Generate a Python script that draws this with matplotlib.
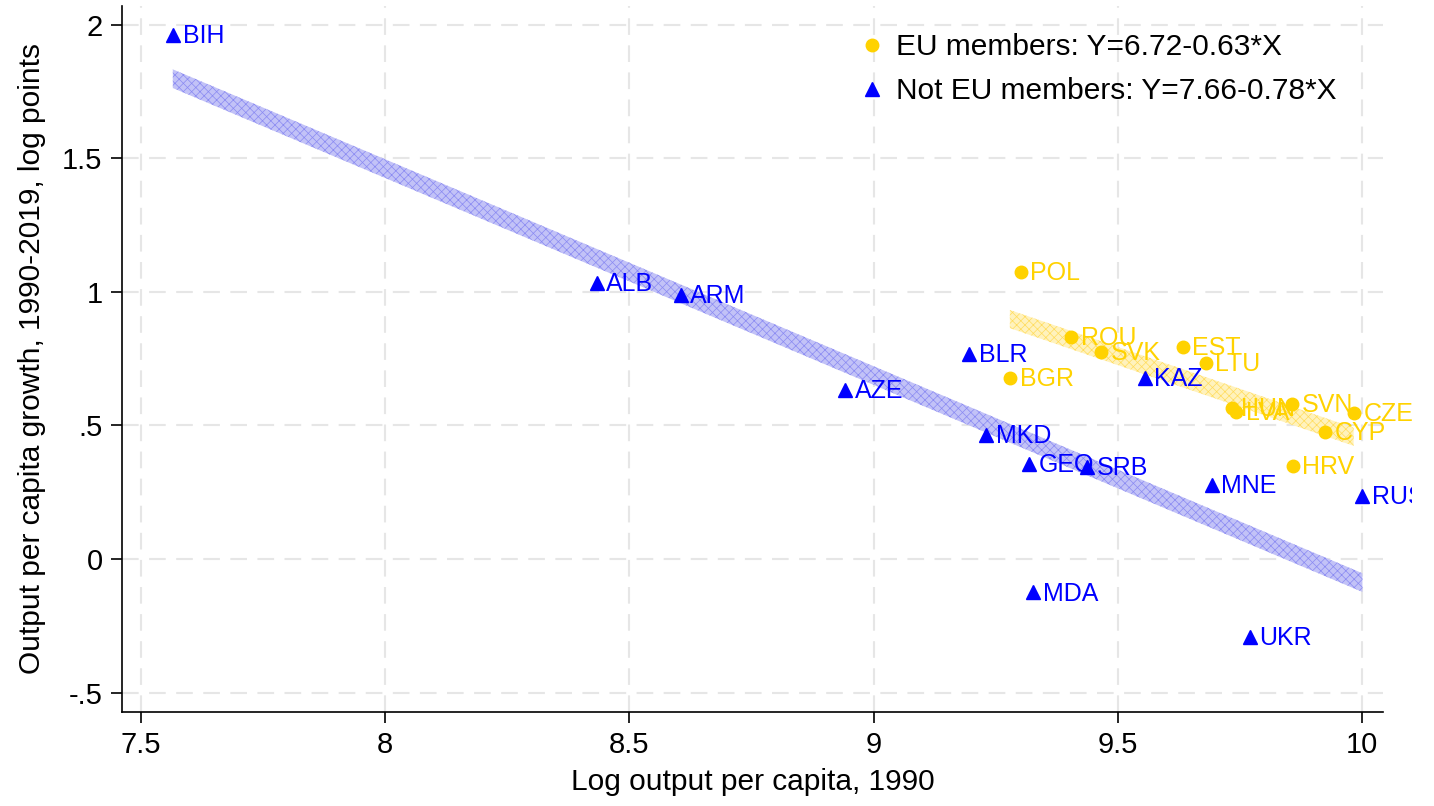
import matplotlib
matplotlib.use("Agg")
import matplotlib.pyplot as plt
from matplotlib.lines import Line2D
import numpy as np

plt.rcParams['font.family'] = ['Liberation Sans', 'DejaVu Sans']
plt.rcParams['hatch.linewidth'] = 0.5

# EU members
eu_codes = ['POL', 'ROU', 'SVK', 'EST', 'LTU', 'BGR', 'HUN', 'LVA', 'SVN', 'CZE', 'CYP', 'HRV']
eu_x = [9.301, 9.405, 9.465, 9.633, 9.680, 9.279, 9.733, 9.743, 9.856, 9.983, 9.925, 9.858]
eu_y = [1.075, 0.831, 0.775, 0.794, 0.734, 0.678, 0.566, 0.551, 0.581, 0.547, 0.476, 0.348]

# not EU members
non_codes = ['BIH', 'ALB', 'ARM', 'AZE', 'BLR', 'MKD', 'GEO', 'SRB', 'KAZ', 'MNE', 'RUS', 'MDA', 'UKR']
non_x = [7.565, 8.433, 8.605, 8.941, 9.195, 9.231, 9.319, 9.438, 9.555, 9.692, 10.001, 9.326, 9.770]
non_y = [1.963, 1.034, 0.989, 0.633, 0.768, 0.464, 0.356, 0.345, 0.678, 0.277, 0.236, -0.124, -0.292]

eu_label = 'EU members: Y=6.72-0.63*X'
non_label = 'Not EU members: Y=7.66-0.78*X'

BLUE = '#0000ff'
GOLD = '#ffd200'

fig = plt.figure(figsize=(14.34, 8.06), dpi=100)
ax = fig.add_axes([0.0851, 0.1166, 0.8793, 0.876])


def fit_band(xs, ys, face, hatch_col, half):
    k, b = np.polyfit(xs, ys, 1)
    xx = np.linspace(min(xs), max(xs), 50)
    yy = k * xx + b
    ax.fill_between(xx, yy - half, yy + half, facecolor=face, edgecolor=hatch_col,
                    hatch='xxxx', linewidth=0, zorder=2)


fit_band(non_x, non_y, '#c2c2f7', '#8a8af2', 0.035)
fit_band(eu_x, eu_y, '#fff2bd', '#ffdc5c', 0.034)

ax.plot(eu_x, eu_y, 'o', color=GOLD, ms=9, zorder=3)
ax.plot(non_x, non_y, '^', color=BLUE, ms=10, zorder=3)

# RUS label is cut at the right edge of the graph in the original
clip = matplotlib.transforms.Bbox.from_extents(0, 0, 1412, 806)
for c, x, y in zip(eu_codes, eu_x, eu_y):
    ax.annotate(c, (x, y), xytext=(7, -1), textcoords='offset points',
                va='center', ha='left', color=GOLD, fontsize=18, zorder=4)
for c, x, y in zip(non_codes, non_x, non_y):
    t = ax.annotate(c, (x, y), xytext=(7, -1), textcoords='offset points',
                    va='center', ha='left', color=BLUE, fontsize=18, zorder=4,
                    annotation_clip=False)
    t.set_clip_box(clip)
    t.set_clip_on(True)

ax.set_xlim(7.461, 10.043)
ax.set_ylim(-0.573, 2.071)
ax.set_xticks([7.5, 8, 8.5, 9, 9.5, 10])
ax.set_xticklabels(['7.5', '8', '8.5', '9', '9.5', '10'])
ax.set_yticks([-0.5, 0, 0.5, 1, 1.5, 2])
ax.set_yticklabels(['-.5', '0', '.5', '1', '1.5', '2'])

ax.grid(True, color='#e6e6e6', linestyle=(0, (8, 5)), linewidth=1.5, zorder=0)
ax.set_axisbelow(True)
for s in ['top', 'right']:
    ax.spines[s].set_visible(False)
for s in ['left', 'bottom']:
    ax.spines[s].set_linewidth(1.2)
ax.tick_params(axis='both', direction='out', length=8, width=1.2,
               labelsize=21, pad=6)

ax.set_xlabel('Log output per capita, 1990', fontsize=21.5, labelpad=6)
ax.set_ylabel('Output per capita growth, 1990-2019, log points', fontsize=21.5, labelpad=12)

handles = [Line2D([], [], marker='o', ls='', color=GOLD, ms=9),
           Line2D([], [], marker='^', ls='', color=BLUE, ms=10)]
ax.legend(handles, [eu_label, non_label], loc='upper left',
          bbox_to_anchor=(0.5785, 0.978), frameon=False, fontsize=21.5,
          handlelength=0.6, handletextpad=0.5, labelspacing=0.52,
          borderaxespad=0)

fig.savefig('out.png', dpi=100)
